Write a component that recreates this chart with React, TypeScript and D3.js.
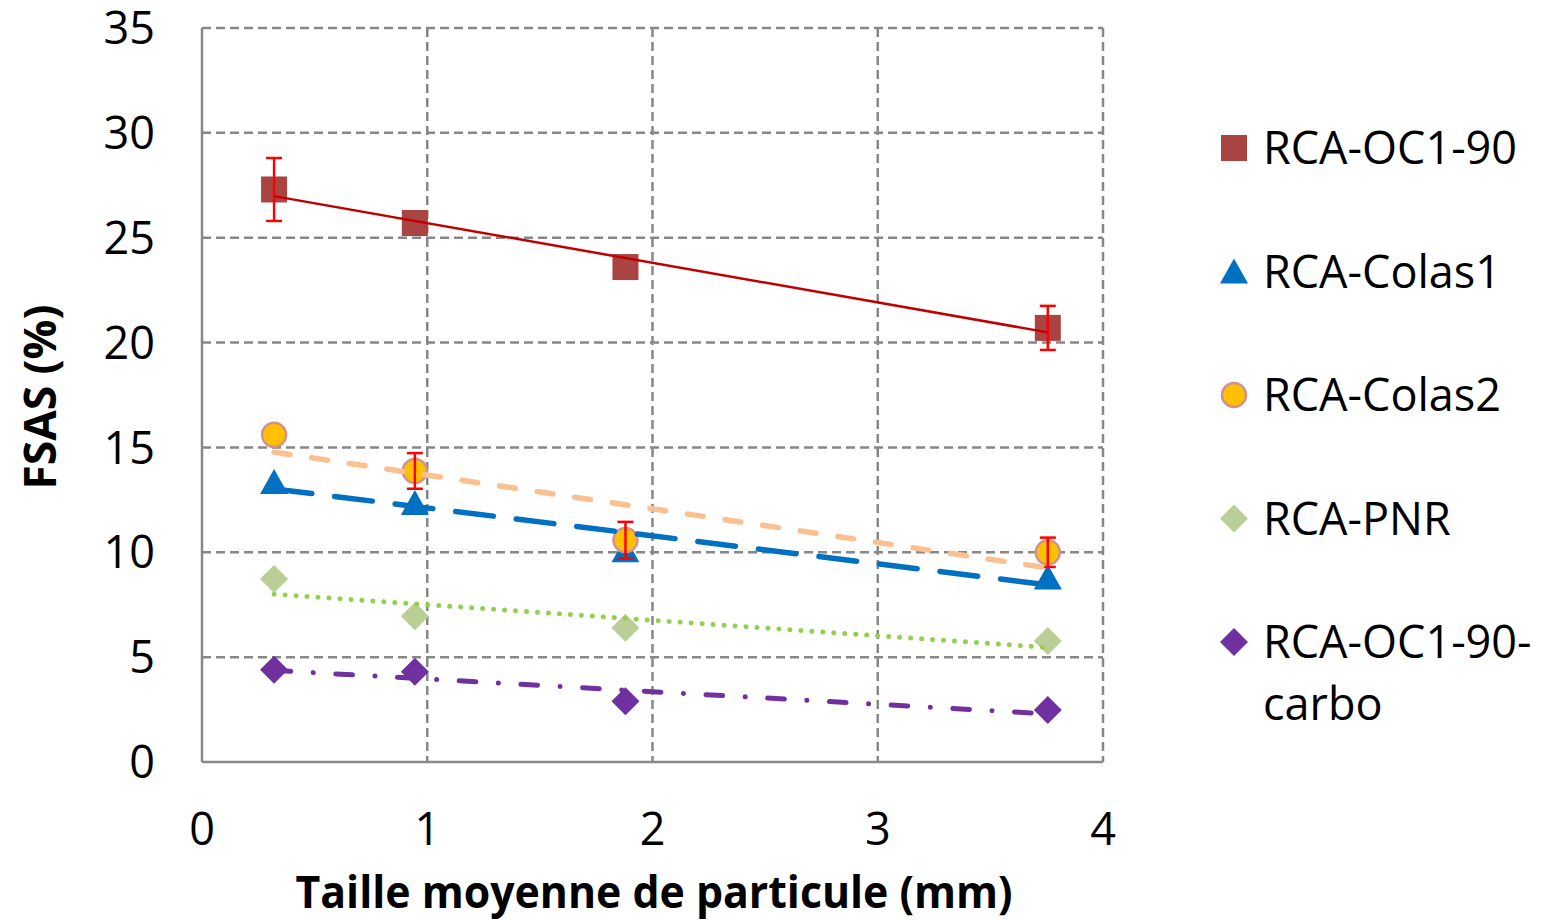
import React from 'react';
import * as d3 from 'd3';

// mean particle size (mm)
const sizes = [0.32, 0.945, 1.88, 3.755];

const seriesNames = ['RCA-OC1-90', 'RCA-Colas1', 'RCA-Colas2', 'RCA-PNR', 'RCA-OC1-90-carbo'];
const oc190 = [27.3, 25.7, 23.6, 20.7];
const colas1 = [13.35, 12.35, 10.1, 8.8];
const colas2 = [15.6, 13.88, 10.58, 10.0];
const pnr = [8.73, 6.95, 6.4, 5.77];
const carbo = [4.4, 4.3, 2.9, 2.48];

// error bars (+/-)
const oc190Err = [1.5, 0, 0, 1.05];
const colas2Err = [0, 0.85, 0.87, 0.7];
const noErr = [0, 0, 0, 0];

const xTicks = [0, 1, 2, 3, 4];
const yTicks = [0, 5, 10, 15, 20, 25, 30, 35];

const W = 1552, H = 920;
const margin = { left: 202, right: 449, top: 28, bottom: 158 };

const FONT = "'Open Sans', 'Liberation Sans', sans-serif";

type Style = {
  marker: 'square' | 'triangle' | 'circle' | 'diamond';
  fill: string;
  stroke?: string;
  line: string;
  lineWidth: number;
  dash: string;
};

const styles: Style[] = [
  { marker: 'square', fill: '#A94442', line: '#C00000', lineWidth: 2.5, dash: '' },
  { marker: 'triangle', fill: '#0070C0', line: '#0070C0', lineWidth: 5.5, dash: '38 23' },
  { marker: 'circle', fill: '#FFC000', stroke: '#D0918F', line: '#FAC090', lineWidth: 5.5, dash: '16 22' },
  { marker: 'diamond', fill: '#B9CF96', line: '#92D050', lineWidth: 5, dash: '0.1 10.9' },
  { marker: 'diamond', fill: '#7030A0', line: '#7030A0', lineWidth: 5, dash: '16.7 22.5 0.1 22.5' },
];

const allValues = [oc190, colas1, colas2, pnr, carbo];
const allErrors = [oc190Err, noErr, colas2Err, noErr, noErr];

function Marker({ kind, x, y, fill, stroke }: { kind: string; x: number; y: number; fill: string; stroke?: string }) {
  const s = 13;
  if (kind === 'square') return <rect x={x - s} y={y - s} width={2 * s} height={2 * s} fill={fill} />;
  if (kind === 'triangle')
    return <path d={`M${x},${y - s}L${x + s + 1},${y + s - 1}L${x - s - 1},${y + s - 1}Z`} fill={fill} />;
  if (kind === 'circle') return <circle cx={x} cy={y} r={12} fill={fill} stroke={stroke} strokeWidth={2.5} />;
  return <path d={`M${x},${y - s - 1}L${x + s + 1},${y}L${x},${y + s + 1}L${x - s - 1},${y}Z`} fill={fill} />;
}

// least squares line, like the spreadsheet trendline
function fit(xs: number[], ys: number[]) {
  const mx = d3.mean(xs)!, my = d3.mean(ys)!;
  const sxy = d3.sum(xs, (v, i) => (v - mx) * (ys[i] - my));
  const sxx = d3.sum(xs, v => (v - mx) * (v - mx));
  const b = sxy / sxx;
  return (v: number) => my + b * (v - mx);
}

export default function App() {
  const x = d3.scaleLinear().domain([0, 4]).range([margin.left, W - margin.right]);
  const y = d3.scaleLinear().domain([0, 35]).range([H - margin.bottom, margin.top]);
  const line = d3.line<number>().x(d => x(d[0])).y(d => y(d[1]));

  const x0 = x(0), x1 = x(4), y0 = y(0), y1 = y(35);
  const grid = '#878787';

  return (
    <svg width={W} height={H} style={{ position: 'absolute', left: 0, top: 0, background: '#fff' }} fontFamily={FONT}>
      {/* gridlines */}
      {yTicks.filter(t => t > 0).map(t => (
        <line key={'gy' + t} x1={x0} x2={x1} y1={y(t)} y2={y(t)} stroke={grid} strokeWidth={2.5} strokeDasharray="9 5" />
      ))}
      {xTicks.filter(t => t > 0).map(t => (
        <line key={'gx' + t} x1={x(t)} x2={x(t)} y1={y1} y2={y0} stroke={grid} strokeWidth={2.5} strokeDasharray="9 5" />
      ))}
      {/* axes */}
      <line x1={x0} x2={x0} y1={y1} y2={y0} stroke={grid} strokeWidth={2.5} />
      <line x1={x0} x2={x1} y1={y0} y2={y0} stroke={grid} strokeWidth={2.5} />

      {/* tick labels */}
      {yTicks.map(t => (
        <text key={'ty' + t} x={155} y={y(t)} dy="0.36em" textAnchor="end" fontSize={45}>{t}</text>
      ))}
      {xTicks.map(t => (
        <text key={'tx' + t} x={x(t)} y={845} textAnchor="middle" fontSize={45}>{t}</text>
      ))}

      {/* markers and error bars */}
      {allValues.map((vals, si) => (
        <g key={'s' + si}>
          {vals.map((v, i) => {
            const e = allErrors[si][i];
            const cx = x(sizes[i]);
            return (
              <g key={i}>
                <Marker kind={styles[si].marker} x={cx} y={y(v)} fill={styles[si].fill} stroke={styles[si].stroke} />
                {e > 0 && (
                  <g stroke="#FF0000" strokeWidth={2.5}>
                    <line x1={cx} x2={cx} y1={y(v + e)} y2={y(v - e)} />
                    <line x1={cx - 8} x2={cx + 8} y1={y(v + e)} y2={y(v + e)} />
                    <line x1={cx - 8} x2={cx + 8} y1={y(v - e)} y2={y(v - e)} />
                  </g>
                )}
              </g>
            );
          })}
        </g>
      ))}

      {/* trendlines */}
      {allValues.map((vals, si) => {
        const f = fit(sizes, vals);
        const a = sizes[0], b = sizes[sizes.length - 1];
        return (
          <path
            key={'t' + si}
            d={line([[a, f(a)], [b, f(b)]] as any) || ''}
            fill="none"
            stroke={styles[si].line}
            strokeWidth={styles[si].lineWidth}
            strokeDasharray={styles[si].dash || undefined}
            strokeLinecap={styles[si].dash ? 'round' : 'butt'}
          />
        );
      })}

      {/* axis titles */}
      <text x={654} y={908} textAnchor="middle" fontSize={44} fontWeight="bold" textLength={717} lengthAdjust="spacingAndGlyphs">
        Taille moyenne de particule (mm)
      </text>
      <text transform="translate(56,397) rotate(-90)" textAnchor="middle" fontSize={44} fontWeight="bold" textLength={185} lengthAdjust="spacingAndGlyphs">
        FSAS (%)
      </text>

      {/* legend */}
      {seriesNames.map((name, i) => {
        const ly = 148 + i * 123.5;
        const parts = name === 'RCA-OC1-90-carbo' ? ['RCA-OC1-90-', 'carbo'] : [name];
        return (
          <g key={'l' + i}>
            <Marker kind={styles[i].marker} x={1234} y={ly} fill={styles[i].fill} stroke={styles[i].stroke} />
            {parts.map((p, j) => (
              <text key={j} x={1263} y={ly + j * 62} dy="0.36em" fontSize={45}>{p}</text>
            ))}
          </g>
        );
      })}
    </svg>
  );
}
